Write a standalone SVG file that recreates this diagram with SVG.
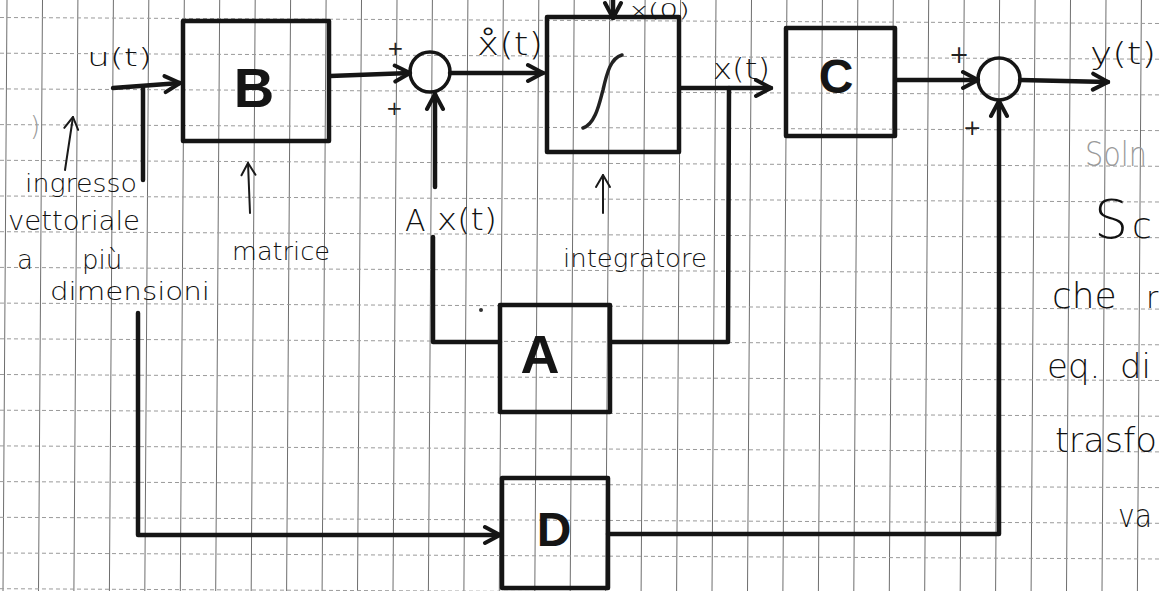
<svg xmlns="http://www.w3.org/2000/svg" width="1159" height="591" viewBox="0 0 1159 591">
<defs>
<style>
.gv{stroke:#6e6e6e;stroke-width:1;fill:none}
.gh{stroke:#9a9a9a;stroke-width:1;stroke-dasharray:4 3;fill:none}
.box{fill:none;stroke:#151515;stroke-width:4.5;stroke-linejoin:round}
.sum{fill:none;stroke:#151515;stroke-width:3.5}
.wire{fill:none;stroke:#151515;stroke-width:4.5;stroke-linecap:round;stroke-linejoin:round}
.thin{fill:none;stroke:#1a1a1a;stroke-width:2;stroke-linecap:round}
.hw{font-family:"DejaVu Sans","Liberation Sans",sans-serif;font-weight:200;fill:#111111}
.sign{font-family:"DejaVu Sans","Liberation Sans",sans-serif;font-weight:normal;fill:#222222}
.big{font-family:"Liberation Sans","DejaVu Sans",sans-serif;font-weight:bold;fill:#151515;text-anchor:middle}
.faint{fill:#9a9a9a}
</style>
<marker id="ah" markerUnits="userSpaceOnUse" markerWidth="22" markerHeight="22" viewBox="0 0 22 22" refX="20" refY="11" orient="auto">
<path d="M5,3 L20,11 L5,19" fill="none" stroke="#151515" stroke-width="4" stroke-linecap="round" stroke-linejoin="round"/>
</marker>
<marker id="ahs" markerUnits="userSpaceOnUse" markerWidth="18" markerHeight="18" viewBox="0 0 18 18" refX="16" refY="9" orient="auto">
<path d="M4,2 L16,9 L4,16" fill="none" stroke="#1a1a1a" stroke-width="2" stroke-linecap="round" stroke-linejoin="round"/>
</marker>
</defs>
<rect x="0" y="0" width="1159" height="591" fill="#ffffff"/>
<g id="grid">
<path class="gv" d="M7,0L3,591M42.5,0L38.5,591M77.9,0L73.9,591M113.4,0L109.4,591M148.8,0L144.8,591M184.3,0L180.3,591M219.7,0L215.7,591M255.2,0L251.2,591M290.6,0L286.6,591M326.1,0L322.1,591M361.5,0L357.5,591M397,0L393,591M432.4,0L428.4,591M467.9,0L463.9,591M503.3,0L499.3,591M538.8,0L534.8,591M574.2,0L570.2,591M609.7,0L605.7,591M645.1,0L641.1,591M680.6,0L676.6,591M716,0L712,591M751.5,0L747.5,591M786.9,0L782.9,591M822.4,0L818.4,591M857.8,0L853.8,591M893.3,0L889.3,591M928.7,0L924.7,591M964.2,0L960.2,591M999.6,0L995.6,591M1035.1,0L1031.1,591M1070.5,0L1066.5,591M1106,0L1102,591M1141.4,0L1137.4,591"/>
<path class="gh" d="M0,17.5L1159,23.5M0,53.2L1159,59.2M0,88.9L1159,94.9M0,124.6L1159,130.6M0,160.3L1159,166.3M0,196L1159,202M0,231.7L1159,237.7M0,267.4L1159,273.4M0,303.1L1159,309.1M0,338.8L1159,344.8M0,374.5L1159,380.5M0,410.2L1159,416.2M0,445.9L1159,451.9M0,481.6L1159,487.6M0,517.3L1159,523.3M0,553L1159,559M0,588.7L1159,594.7"/>
</g>
<g id="connectors">
<path class="wire" d="M113,88 L180,83" marker-end="url(#ah)"/>
<path class="wire" d="M143,88 L143,180"/>
<path class="wire" d="M138,313 L138,535 L500,535" marker-end="url(#ah)"/>
<path class="wire" d="M330,76 L410,73" marker-end="url(#ah)"/>
<path class="wire" d="M450,73 L543,73" marker-end="url(#ah)"/>
<path class="wire" d="M613,-4 L613,18" marker-end="url(#ah)"/>
<path class="wire" d="M680,88 L771,88" marker-end="url(#ah)"/>
<path class="wire" d="M729,88 L728,342 L612,342"/>
<path class="wire" d="M500,342 L433,342 L433,237"/>
<path class="wire" d="M435,187 L435,94" marker-end="url(#ah)"/>
<path class="wire" d="M896,80 L978,80" marker-end="url(#ah)"/>
<path class="wire" d="M1020,80 L1108,82" marker-end="url(#ah)"/>
<path class="wire" d="M608,534 L999,534 L999,101" marker-end="url(#ah)"/>
<path class="thin" d="M65,170 L73,117" marker-end="url(#ahs)"/>
<path class="thin" d="M250,213 L248,163" marker-end="url(#ahs)"/>
<path class="thin" d="M603,213 L603,175" marker-end="url(#ahs)"/>
</g>
<g id="node-B">
<rect class="box" x="183" y="21" width="146" height="120"/>
<text class="big" x="254" y="107" font-size="56">B</text>
</g>
<g id="node-sum1">
<circle class="sum" cx="430" cy="72" r="20"/>
</g>
<g id="node-integrator">
<rect class="box" x="547" y="17" width="132" height="135"/>
<path d="M583,128 C596,124 600,100 603,90 C607,72 611,58 622,55" fill="none" stroke="#222" stroke-width="3.5" stroke-linecap="round"/>
</g>
<g id="node-C">
<rect class="box" x="786" y="28" width="109" height="108"/>
<text class="big" x="836" y="93" font-size="48">C</text>
</g>
<g id="node-sum2">
<circle class="sum" cx="999" cy="79" r="21"/>
</g>
<g id="node-A">
<rect class="box" x="500" y="305" width="110" height="107"/>
<text class="big" x="540" y="373" font-size="54">A</text>
</g>
<g id="node-D">
<rect class="box" x="502" y="478" width="106" height="110"/>
<text class="big" x="554" y="546" font-size="48">D</text>
</g>
<g id="labels">
<text class="hw" x="87" y="66" font-size="24" textLength="65" lengthAdjust="spacingAndGlyphs">u(t)</text>
<text class="hw faint" x="30" y="135" font-size="26">)</text>
<text class="hw" x="25" y="192" font-size="24" textLength="112" lengthAdjust="spacingAndGlyphs">ingresso</text>
<text class="hw" x="8" y="230" font-size="26" textLength="132" lengthAdjust="spacingAndGlyphs">vettoriale</text>
<text class="hw" font-size="26" y="269"><tspan x="17">a</tspan><tspan x="82">più</tspan></text>
<text class="hw" x="50" y="300" font-size="24" textLength="160" lengthAdjust="spacingAndGlyphs">dimensioni</text>
<text class="hw" x="232" y="260" font-size="24" textLength="98" lengthAdjust="spacingAndGlyphs">matrice</text>
<text class="sign" x="387" y="55" font-size="20">+</text>
<text class="sign" x="386" y="115" font-size="20">+</text>
<text class="hw" x="477" y="55" font-size="32" textLength="66" lengthAdjust="spacingAndGlyphs">x̊(t)</text>
<text class="hw" x="630" y="17" font-size="20" textLength="60" lengthAdjust="spacingAndGlyphs">x(0)</text>
<text class="hw" x="713" y="79" font-size="28" textLength="57" lengthAdjust="spacingAndGlyphs">x(t)</text>
<text class="hw" x="563" y="267" font-size="24" textLength="144" lengthAdjust="spacingAndGlyphs">integratore</text>
<text class="hw" x="405" y="231" font-size="30">A</text>
<text class="hw" x="437" y="230" font-size="30" textLength="60" lengthAdjust="spacingAndGlyphs">x(t)</text>
<circle cx="481" cy="310" r="2" fill="#333"/>
<text class="sign" x="949" y="63" font-size="24">+</text>
<text class="sign" x="963" y="135" font-size="22">+</text>
<text class="hw" x="1090" y="64" font-size="30" textLength="66" lengthAdjust="spacingAndGlyphs">y(t)</text>
<text class="hw faint" x="1085" y="166" font-size="34" textLength="62" lengthAdjust="spacingAndGlyphs">Soln</text>
<text class="hw" y="238"><tspan x="1094" font-size="54">S</tspan><tspan x="1132" font-size="36">c</tspan></text>
<text class="hw" font-size="36" y="308"><tspan x="1052">che</tspan><tspan x="1146" font-size="30">r</tspan></text>
<text class="hw" font-size="34" y="378"><tspan x="1047">eq.</tspan><tspan x="1120">di</tspan></text>
<text class="hw" x="1055" y="452" font-size="34" textLength="102" lengthAdjust="spacingAndGlyphs">trasfo</text>
<text class="hw" x="1118" y="527" font-size="32" textLength="34" lengthAdjust="spacingAndGlyphs">va</text>
</g>
</svg>
